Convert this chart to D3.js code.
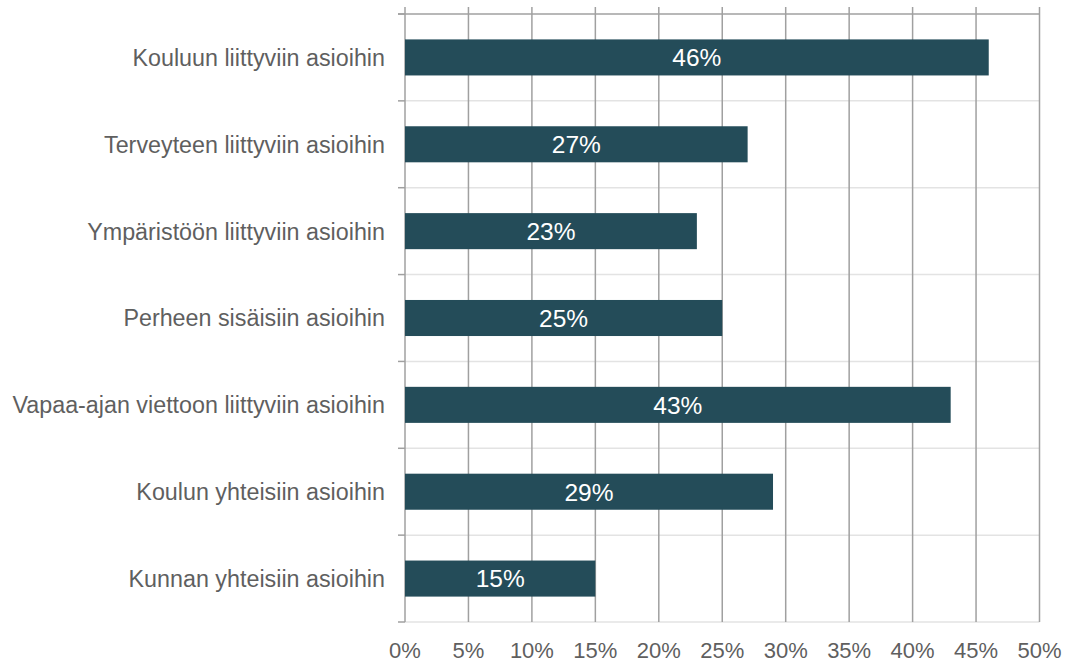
<!DOCTYPE html>
<meta charset="utf-8">
<style>
  body { margin: 0; background: #fff; }
  text { font-family: "Liberation Sans", Arial, sans-serif; }
</style>
<svg width="1069" height="664"></svg>
<script src="https://d3js.org/d3.v7.min.js"></script>
<script>
// chart values
const categories = [
  "Kouluun liittyviin asioihin",
  "Terveyteen liittyviin asioihin",
  "Ympäristöön liittyviin asioihin",
  "Perheen sisäisiin asioihin",
  "Vapaa-ajan viettoon liittyviin asioihin",
  "Koulun yhteisiin asioihin",
  "Kunnan yhteisiin asioihin"
];
const values = [46, 27, 23, 25, 43, 29, 15];
const ticks = [0, 5, 10, 15, 20, 25, 30, 35, 40, 45, 50];

const svg = d3.select("svg");
const plotLeft = 405, plotRight = 1039.5, plotTop = 14, plotBottom = 622;
const barColor = "#244c59", gridColor = "#a0a0a0", sepColor = "#e3e3e3";

const x = d3.scaleLinear().domain([0, 50]).range([plotLeft, plotRight]);
const y = d3.scaleBand().domain(categories).range([plotTop, plotBottom]).paddingInner(0.585).paddingOuter(0.2925);

// category separators
const bounds = d3.range(categories.length + 1).map(i => plotTop + i * (plotBottom - plotTop) / categories.length);
svg.append("g").selectAll("line").data(bounds.slice(1)).join("line")
  .attr("x1", plotLeft).attr("x2", plotRight)
  .attr("y1", d => d).attr("y2", d => d)
  .attr("stroke", sepColor).attr("stroke-width", 1.5);

// top line
svg.append("line")
  .attr("x1", plotLeft - 7).attr("x2", plotRight)
  .attr("y1", plotTop).attr("y2", plotTop)
  .attr("stroke", gridColor).attr("stroke-width", 1.5);

// vertical gridlines
svg.append("g").selectAll("line").data(ticks).join("line")
  .attr("x1", d => x(d)).attr("x2", d => x(d))
  .attr("y1", plotTop - 7).attr("y2", plotBottom)
  .attr("stroke", gridColor).attr("stroke-width", 1.5);

// left tick marks
svg.append("g").selectAll("line").data(bounds).join("line")
  .attr("x1", plotLeft - 7).attr("x2", plotLeft)
  .attr("y1", d => d).attr("y2", d => d)
  .attr("stroke", gridColor).attr("stroke-width", 1.5);

// bars
svg.append("g").selectAll("rect").data(values).join("rect")
  .attr("x", x(0))
  .attr("y", (d, i) => y(categories[i]))
  .attr("width", d => x(d) - x(0))
  .attr("height", y.bandwidth())
  .attr("fill", barColor);

// bar value labels
svg.append("g").selectAll("text").data(values).join("text")
  .attr("x", d => (x(0) + x(d)) / 2)
  .attr("y", (d, i) => y(categories[i]) + y.bandwidth() / 2)
  .attr("dy", "0.36em")
  .attr("text-anchor", "middle")
  .attr("fill", "#fff")
  .style("font-size", "24.5px")
  .text(d => d + "%");

// category labels
svg.append("g").selectAll("text").data(categories).join("text")
  .attr("x", 385)
  .attr("y", d => y(d) + y.bandwidth() / 2)
  .attr("dy", "0.36em")
  .attr("text-anchor", "end")
  .attr("fill", "#5f5f5f")
  .style("font-size", "23.3px")
  .text(d => d);

// x tick labels
svg.append("g").selectAll("text").data(ticks).join("text")
  .attr("x", d => x(d))
  .attr("y", 658)
  .attr("text-anchor", "middle")
  .attr("fill", "#5f5f5f")
  .style("font-size", "22px")
  .text(d => d + "%");
</script>
